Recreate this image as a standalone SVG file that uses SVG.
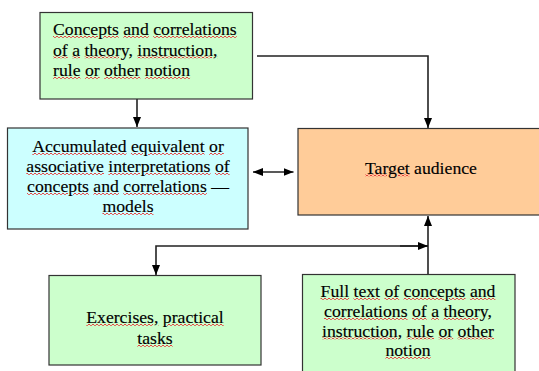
<svg xmlns="http://www.w3.org/2000/svg" width="539" height="371" viewBox="0 0 539 371">
<defs>
<marker id="ah" viewBox="0 0 10 10" refX="10" refY="5" markerWidth="10" markerHeight="10" markerUnits="userSpaceOnUse" orient="auto-start-reverse">
<path d="M0,1 L10,5 L0,9 Z" fill="#000"/>
</marker>
<pattern id="sq" width="4" height="2" patternUnits="userSpaceOnUse">
<rect x="0" y="0" width="2" height="1" fill="#e84040"/>
<rect x="2" y="1" width="2" height="1" fill="#e84040"/>
</pattern>
</defs>
<style>
.box{stroke:#333;stroke-width:1.2}
.g{fill:#ccffcc}
.b{fill:#ccffff}
.o{fill:#ffcc99}
.t{font-family:"Liberation Serif","Times New Roman",serif;font-size:17.7px;fill:#000;stroke:#000;stroke-width:0.15px}
.c{text-anchor:middle}
.s{text-decoration:underline;text-decoration-thickness:2px;text-decoration-skip-ink:none;text-underline-offset:2px;fill:url(#sq);stroke:none}
.s tspan{fill:#000;stroke:#000;stroke-width:0.15px}
.ln{fill:none;stroke:#222;stroke-width:1.6}
</style>
<rect width="539" height="371" fill="#fff"/>
<g id="connectors">
<path class="ln" d="M137,99 V127" marker-end="url(#ah)"/>
<path class="ln" d="M257,56 H428 V128" marker-end="url(#ah)"/>
<path class="ln" d="M253,172 H293.5" marker-start="url(#ah)" marker-end="url(#ah)"/>
<path class="ln" d="M428,275 V216" marker-end="url(#ah)"/>
<path class="ln" d="M428,246 H156 V275" marker-end="url(#ah)"/>
<path class="ln" d="M400,246 H428" marker-end="url(#ah)"/>
</g>
<g id="concepts">
<rect class="box g" x="40" y="12.5" width="212.5" height="86.5"/>
<text class="t" x="53" y="35"><tspan class="s"><tspan>Concepts</tspan></tspan> <tspan class="s"><tspan>and</tspan></tspan> <tspan class="s"><tspan>correlations</tspan></tspan></text>
<text class="t" x="53" y="55.5"><tspan class="s"><tspan>of</tspan></tspan> <tspan class="s"><tspan>a</tspan></tspan> <tspan class="s"><tspan>theory,</tspan></tspan> <tspan class="s"><tspan>instruction,</tspan></tspan></text>
<text class="t" x="53" y="76"><tspan class="s"><tspan>rule</tspan></tspan> <tspan class="s"><tspan>or</tspan></tspan> <tspan class="s"><tspan>other</tspan></tspan> <tspan class="s"><tspan>notion</tspan></tspan></text>
</g>
<g id="models">
<rect class="box b" x="7.5" y="128" width="240.5" height="101"/>
<text class="t c" x="128" y="152"><tspan class="s"><tspan>Accumulated</tspan></tspan> <tspan class="s"><tspan>equivalent</tspan></tspan> <tspan class="s"><tspan>or</tspan></tspan></text>
<text class="t c" x="128" y="172"><tspan class="s"><tspan>associative</tspan></tspan> <tspan class="s"><tspan>interpretations</tspan></tspan> <tspan class="s"><tspan>of</tspan></tspan></text>
<text class="t c" x="128" y="192"><tspan class="s"><tspan>concepts</tspan></tspan> <tspan class="s"><tspan>and</tspan></tspan> <tspan class="s"><tspan>correlations</tspan></tspan> —</text>
<text class="t c" x="128" y="212"><tspan class="s"><tspan>models</tspan></tspan></text>
</g>
<g id="target">
<rect class="box o" x="298" y="128.5" width="250" height="86.5"/>
<text class="t c" x="421" y="173.5"><tspan class="s"><tspan>Target</tspan></tspan> audience</text>
</g>
<g id="exercises">
<rect class="box g" x="49" y="275.5" width="212" height="89.5"/>
<text class="t c" x="155" y="323"><tspan class="s"><tspan>Exercises,</tspan></tspan> <tspan class="s"><tspan>practical</tspan></tspan></text>
<text class="t c" x="155" y="344"><tspan class="s"><tspan>tasks</tspan></tspan></text>
</g>
<g id="fulltext">
<rect class="box g" x="302.5" y="274.5" width="212.5" height="110"/>
<text class="t c" x="408" y="297"><tspan class="s"><tspan>Full</tspan></tspan> <tspan class="s"><tspan>text</tspan></tspan> <tspan class="s"><tspan>of</tspan></tspan> <tspan class="s"><tspan>concepts</tspan></tspan> <tspan class="s"><tspan>and</tspan></tspan></text>
<text class="t c" x="408" y="317"><tspan class="s"><tspan>correlations</tspan></tspan> <tspan class="s"><tspan>of</tspan></tspan> <tspan class="s"><tspan>a</tspan></tspan> <tspan class="s"><tspan>theory,</tspan></tspan></text>
<text class="t c" x="408" y="336.5"><tspan class="s"><tspan>instruction,</tspan></tspan> <tspan class="s"><tspan>rule</tspan></tspan> <tspan class="s"><tspan>or</tspan></tspan> <tspan class="s"><tspan>other</tspan></tspan></text>
<text class="t c" x="408" y="356"><tspan class="s"><tspan>notion</tspan></tspan></text>
</g>
</svg>
